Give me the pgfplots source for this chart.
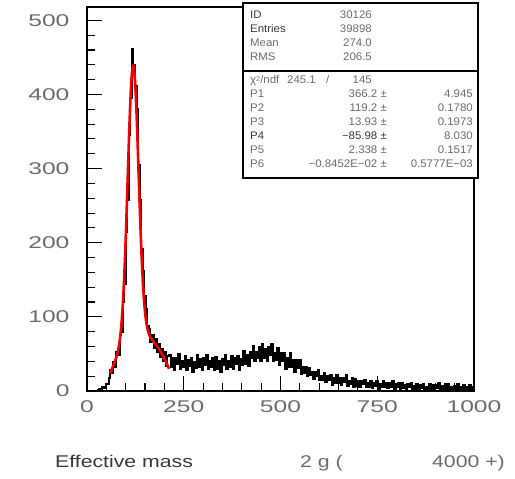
\documentclass[border=0pt]{standalone}
\usepackage{fontspec}
\setmainfont{Liberation Sans}
\newfontfamily\widefont[FakeStretch=1.45]{Liberation Sans}
\newfontfamily\titlefont[FakeStretch=1.25]{Liberation Sans}
\newfontfamily\statfont[FakeStretch=1.04]{Liberation Sans}
\usepackage{pgfplots}
\usepackage{pgfplotstable}
\pgfplotsset{compat=1.18}
\definecolor{txtgray}{gray}{0.42}
\definecolor{txtdark}{gray}{0.22}
\definecolor{fitred}{RGB}{240,0,0}

\pgfplotstableread{
x y
0 0
4 0
8 0
12 0
16 0
20 0
24 0
28 1
32 3
36 2
40 6
44 4
48 10
52 9
56 17
60 28
64 24
68 39
72 33
76 52
80 48
84 75
88 80
92 120
96 145
100 214
104 258
108 345
112 395
116 462
120 440
124 412
128 380
132 305
136 258
140 192
144 162
148 128
152 110
156 88
160 84
164 66
168 76
172 58
176 70
180 52
184 64
188 46
192 57
196 40
200 52
204 34
208 47
212 49
216 33
220 44
224 28
228 45
232 37
236 50
240 30
244 40
248 32
252 47
256 28
260 42
264 34
268 44
272 25
276 39
280 31
284 48
288 33
292 43
296 28
300 44
304 35
308 49
312 30
316 40
320 32
324 45
328 28
332 46
336 30
340 41
344 26
348 43
352 35
356 48
360 29
364 40
368 32
372 47
376 29
380 44
384 36
388 47
392 28
396 43
400 35
404 54
408 37
412 49
416 34
420 53
424 44
428 61
432 40
436 53
440 44
444 60
448 41
452 63
456 45
460 57
464 41
468 59
472 49
476 64
480 41
484 51
488 42
492 58
496 35
500 51
504 40
508 51
512 29
516 44
520 33
524 51
528 33
532 42
536 25
540 42
544 31
548 42
552 23
556 32
560 24
564 32
568 20
572 31
576 21
580 26
584 16
588 26
592 20
596 28
600 15
604 20
608 15
612 24
616 12
620 20
624 15
628 21
632 8
636 17
640 11
644 22
648 11
652 18
656 8
660 17
664 12
668 21
672 7
676 14
680 9
684 17
688 5
692 16
696 7
700 13
704 5
708 13
712 9
716 15
720 6
724 11
728 6
732 13
736 4
740 11
744 7
748 13
752 2
756 9
760 5
764 13
768 6
772 11
776 4
780 11
784 6
788 13
792 3
796 9
800 5
804 11
808 2
812 11
816 4
820 8
824 1
828 9
832 5
836 11
840 2
844 7
848 3
852 10
856 1
860 8
864 4
868 10
872 0
876 6
880 2
884 10
888 3
892 8
896 1
900 8
904 4
908 11
912 1
916 7
920 3
924 9
928 0
932 9
936 1
940 6
944 0
948 7
952 3
956 9
960 1
964 5
968 1
972 8
976 0
980 6
984 2
988 8
992 0
996 5
1000 5
}\histdata

\pgfplotstableread{
x y
60 23.9
64 29.2
68 34.4
72 39.7
76 45.9
80 54.0
84 65.8
88 84.1
90 96.7
92 112.0
94 130.4
96 152.1
98 177.0
100 204.9
102 235.5
104 267.7
106 300.6
108 333.0
110 363.4
112 390.3
114 412.3
116 428.2
118 437.0
119.2 438.8
120 438.5
122 432.4
124 419.1
126 399.5
128 374.7
130 346.2
132 315.5
134 283.8
136 252.7
138 223.0
140 195.8
142 171.5
144 150.5
146 132.7
148 118.1
150 106.4
152 97.0
156 84.2
160 76.8
164 72.2
168 69.0
172 66.4
176 63.8
180 61.0
184 58.1
188 54.8
192 51.4
196 47.6
200 43.5
204 39.2
208 34.7
212 29.8
}\fitdata

\begin{document}
\begin{tikzpicture}
\path[use as bounding box] (-87pt,-88pt) rectangle (428pt,391pt);
\begin{axis}[
  at={(0pt,0pt)}, anchor=south west,
  scale only axis, width=387pt, height=384pt,
  xmin=0, xmax=1000, ymin=0, ymax=518,
  axis line style={line width=1.5pt},
  xtick={0,250,500,750,1000}, ytick={0,100,200,300,400,500},
  minor x tick num=4, minor y tick num=4,
  tick pos=left, tick align=inside,
  major tick length=15pt, minor tick length=8pt,
  tick style={line width=1.1pt, black},
  /pgf/number format/assume math mode=true,
  /pgf/number format/1000 sep={},
  scaled ticks=false,
  ticklabel style={font=\widefont\fontsize{17}{17}\selectfont, text=txtgray},
  xticklabel style={yshift=-6pt},
  yticklabel style={xshift=-14pt},
]
\addplot[const plot, black, line width=2pt, line join=miter] table[x=x,y=y] {\histdata};
\addplot[fitred, line width=2.6pt, smooth] table[x=x,y=y] {\fitdata};
\end{axis}

% statistics box
\draw[fill=white, line width=1.2pt] (156pt,213pt) rectangle (391pt,388pt);
\draw[line width=1.2pt] (156pt,320pt) -- (391pt,320pt);
\begin{scope}[every node/.style={inner sep=0pt, font=\statfont\fontsize{11}{11}\selectfont, text=txtgray}]
\node[anchor=base west, text=txtdark] at (163pt,372pt) {ID};
\node[anchor=base east] at (285pt,372pt) {30126};
\node[anchor=base west, text=txtdark] at (163pt,358pt) {Entries};
\node[anchor=base east] at (285pt,358pt) {39898};
\node[anchor=base west] at (163pt,344pt) {Mean};
\node[anchor=base east] at (285pt,344pt) {274.0};
\node[anchor=base west] at (163pt,330pt) {RMS};
\node[anchor=base east] at (285pt,330pt) {206.5};
\node[anchor=base west] at (163pt,307pt) {χ\raisebox{0.45ex}{\fontsize{7}{7}\selectfont 2}/ndf};
\node[anchor=base east] at (229pt,307pt) {245.1};
\node[anchor=base west] at (239pt,307pt) {/};
\node[anchor=base east] at (285pt,307pt) {145};
\node[anchor=base west] at (163pt,293pt) {P1};
\node[anchor=base east] at (300pt,293pt) {366.2 ±};
\node[anchor=base east] at (386pt,293pt) {4.945};
\node[anchor=base west] at (163pt,279pt) {P2};
\node[anchor=base east] at (300pt,279pt) {119.2 ±};
\node[anchor=base east] at (386pt,279pt) {0.1780};
\node[anchor=base west] at (163pt,265pt) {P3};
\node[anchor=base east] at (300pt,265pt) {13.93 ±};
\node[anchor=base east] at (386pt,265pt) {0.1973};
\node[anchor=base west, text=txtdark] at (163pt,251pt) {P4};
\node[anchor=base east, text=txtdark] at (300pt,251pt) {−85.98 ±};
\node[anchor=base east] at (386pt,251pt) {8.030};
\node[anchor=base west] at (163pt,237pt) {P5};
\node[anchor=base east] at (300pt,237pt) {2.338 ±};
\node[anchor=base east] at (386pt,237pt) {0.1517};
\node[anchor=base west] at (163pt,223pt) {P6};
\node[anchor=base east] at (300pt,223pt) {−0.8452E−02 ±};
\node[anchor=base east] at (386pt,223pt) {0.5777E−03};
\end{scope}

% x axis title
\begin{scope}[every node/.style={inner sep=0pt, font=\titlefont\fontsize{17}{17}\selectfont, text=txtgray}]
\node[anchor=base west, text=txtdark] at (-32pt,-77pt) {Effective mass};
\node[anchor=base west] at (213pt,-77pt) {2 g (};
\node[anchor=base east] at (418pt,-77pt) {4000 +)};
\end{scope}
\end{tikzpicture}
\end{document}
